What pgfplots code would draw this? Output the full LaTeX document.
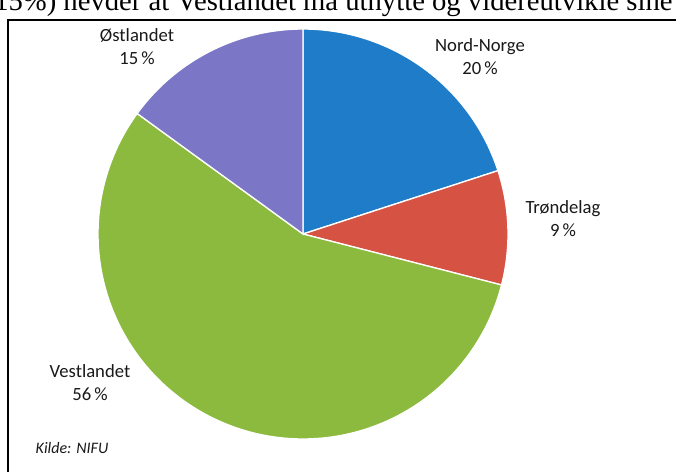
\documentclass[border=0pt]{standalone}
\usepackage{pgfplots}
\pgfplotsset{compat=1.18}
\usepackage{fontspec}
\setmainfont{Carlito}
\newfontfamily\seriffont{Liberation Serif}
\definecolor{cNord}{RGB}{30,124,200}
\definecolor{cTrond}{RGB}{214,82,66}
\definecolor{cVest}{RGB}{140,186,62}
\definecolor{cOst}{RGB}{124,118,198}
% shares (percent), clockwise from 12 o'clock
\def\pNord{20}
\def\pTrond{9}
\def\pVest{56}
\def\pOst{15}
\begin{document}
\begin{tikzpicture}
\begin{axis}[
  scale only axis, width=507pt, height=354pt,
  xmin=0, xmax=676, ymin=0, ymax=472,
  hide axis, clip=false,
]
\pgfmathsetmacro\aA{90}
\pgfmathsetmacro\aB{\aA-3.6*\pNord}
\pgfmathsetmacro\aC{\aB-3.6*\pTrond}
\pgfmathsetmacro\aD{\aC-3.6*\pVest}
\pgfmathsetmacro\aE{\aD-3.6*\pOst}
\addplot[fill=cNord, draw=white, line width=1pt, domain=\aA:\aB, samples=60, variable=\t]
  ({303+205*cos(\t)},{238+205*sin(\t)}) -- (axis cs:303,238) -- cycle;
\addplot[fill=cTrond, draw=white, line width=1pt, domain=\aB:\aC, samples=40, variable=\t]
  ({303+205*cos(\t)},{238+205*sin(\t)}) -- (axis cs:303,238) -- cycle;
\addplot[fill=cVest, draw=white, line width=1pt, domain=\aC:\aD, samples=150, variable=\t]
  ({303+205*cos(\t)},{238+205*sin(\t)}) -- (axis cs:303,238) -- cycle;
\addplot[fill=cOst, draw=white, line width=1pt, domain=\aD:\aE, samples=50, variable=\t]
  ({303+205*cos(\t)},{238+205*sin(\t)}) -- (axis cs:303,238) -- cycle;

\tikzset{lab/.style={align=center, font=\fontsize{14}{17.5}\selectfont, text=black!90}}
\node[lab] at (axis cs:480,415.5) {Nord-Norge\\20\,\%};
\node[lab] at (axis cs:563,253.5) {Trøndelag\\9\,\%};
\node[lab] at (axis cs:90,89.5) {Vestlandet\\56\,\%};
\node[lab] at (axis cs:137,425.5) {Østlandet\\15\,\%};
\node[anchor=west, font=\fontsize{12}{14}\selectfont\itshape, text=black!90] at (axis cs:31,24) {Kilde: NIFU};

\draw[line width=1.5pt] (axis cs:8,0) -- (axis cs:8,452) -- (axis cs:680,452);
\node[anchor=base west, inner sep=0pt, font=\seriffont\fontsize{21.5}{24}\selectfont] at (axis cs:-6,461) {15\%) hevder at Vestlandet må utnytte og videreutvikle sine};
\end{axis}
\pgfresetboundingbox
\path[use as bounding box] (0,0) rectangle (507pt,354pt);
\end{tikzpicture}
\end{document}
